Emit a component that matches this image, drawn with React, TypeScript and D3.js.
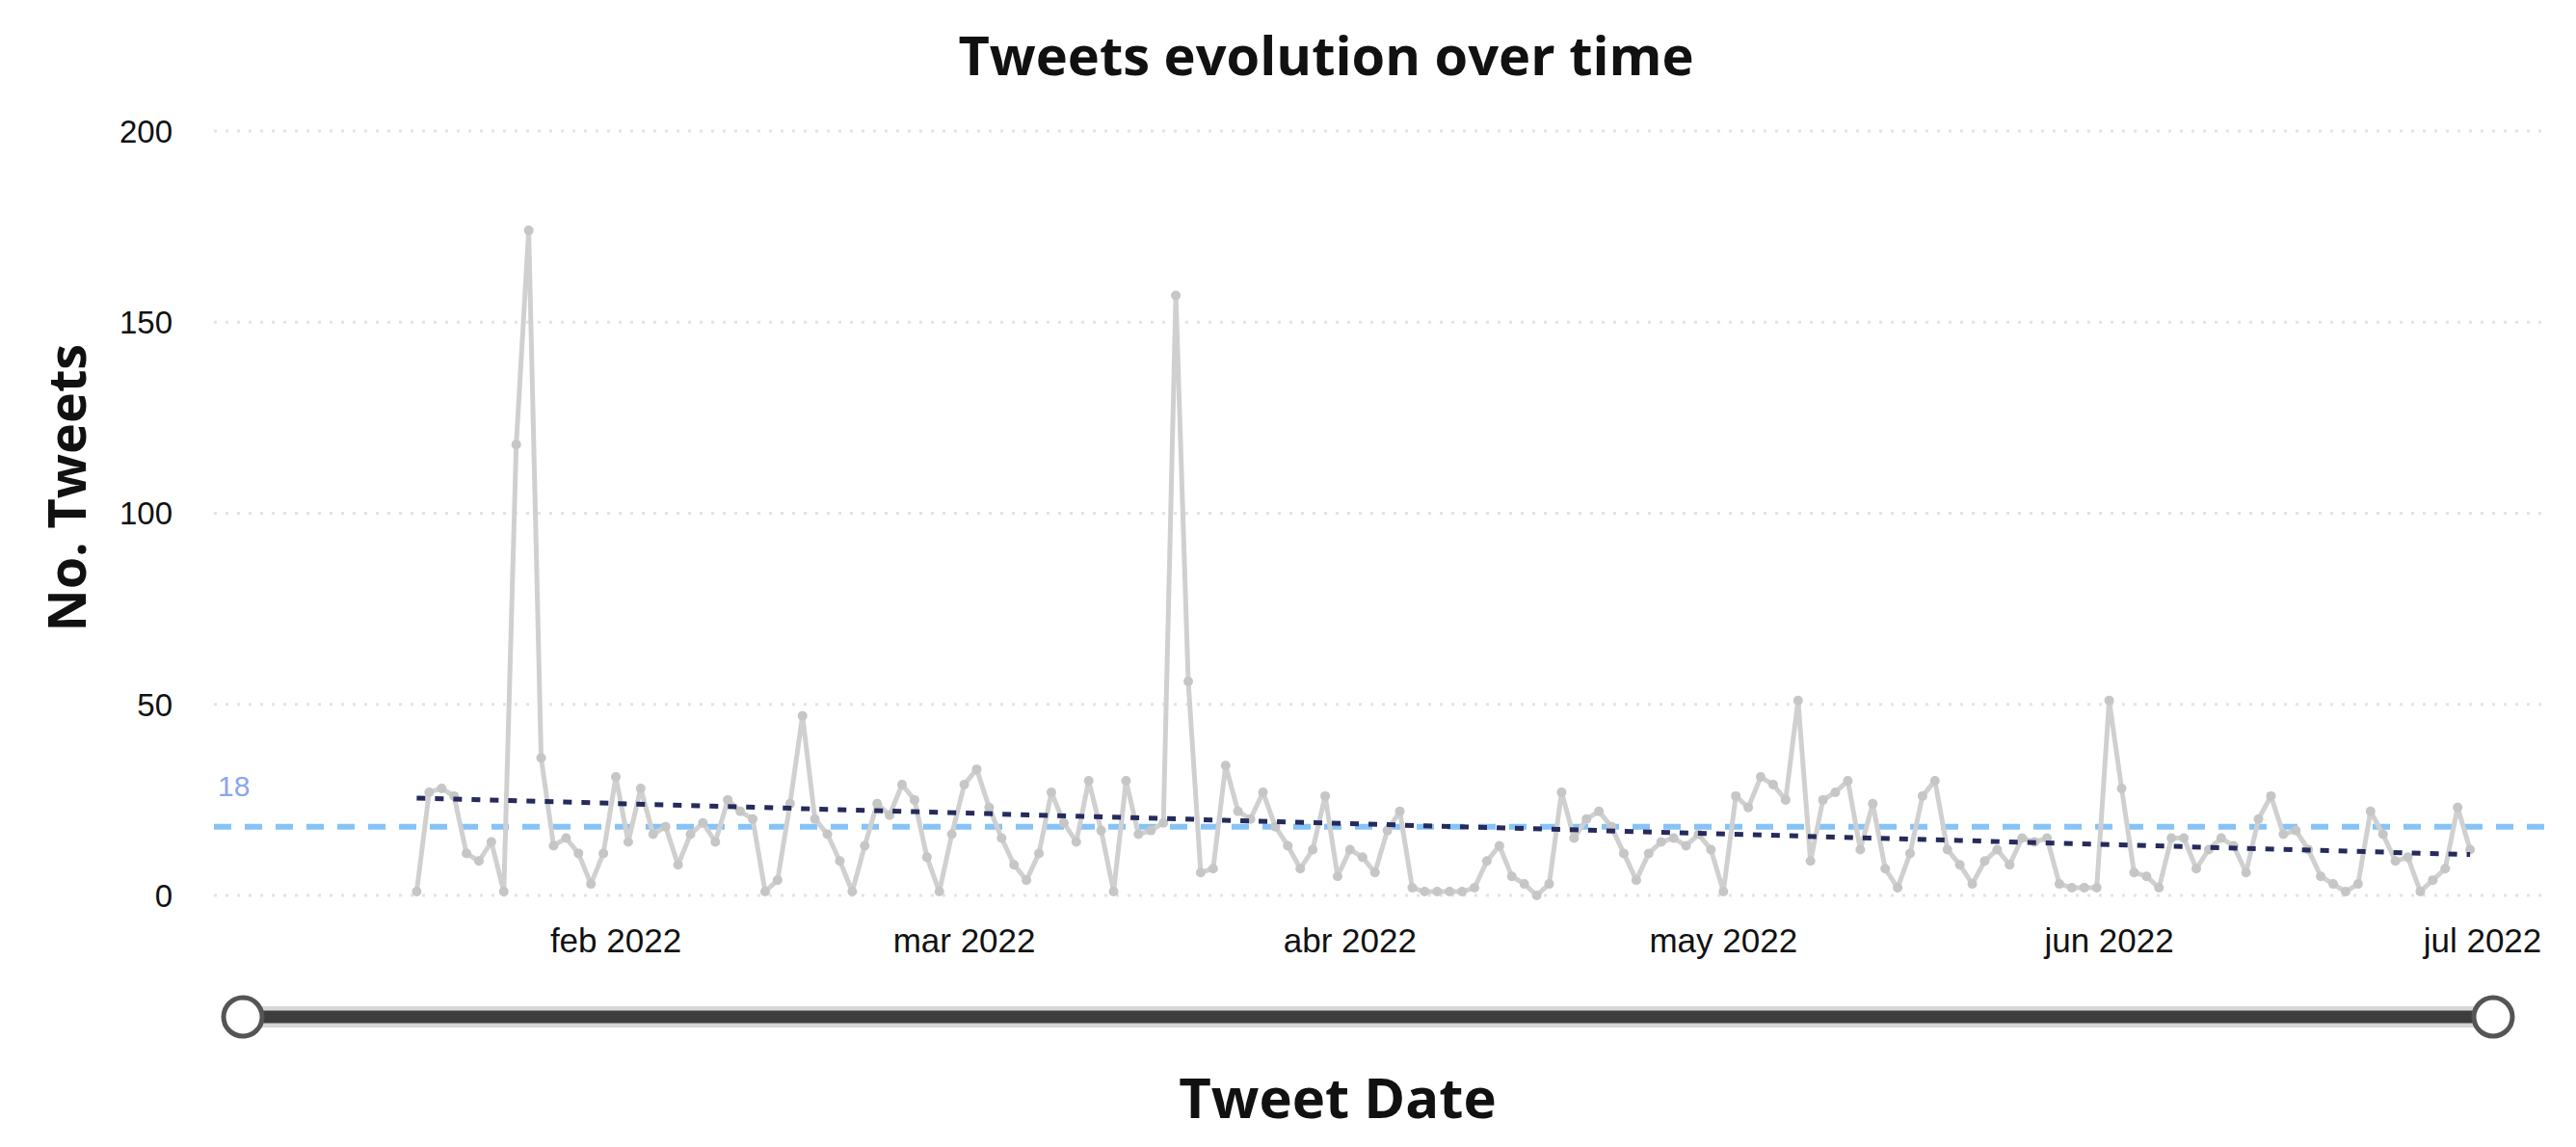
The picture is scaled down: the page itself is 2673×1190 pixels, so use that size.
import React from "react";
import * as d3 from "d3";

// ---- data ----
const janCounts = [1, 27, 28, 26, 11, 9, 14, 1, 118, 174, 36, 13, 15, 11, 3, 11]; // from Jan 16
const febCounts = [31, 14, 28, 16, 18, 8, 16, 19, 14, 25, 22, 20, 1, 4, 24, 47, 20, 16, 9, 1, 13, 24, 21, 29, 25, 10, 1, 16];
const marCounts = [29, 33, 23, 15, 8, 4, 11, 27, 19, 14, 30, 17, 1, 30, 16, 17, 19, 157, 56, 6, 7, 34, 22, 20, 27, 18, 13, 7, 12, 26, 5];
const aprCounts = [12, 10, 6, 17, 22, 2, 1, 1, 1, 1, 2, 9, 13, 5, 3, 0, 3, 27, 15, 20, 22, 18, 11, 4, 11, 14, 15, 13, 16, 12];
const mayCounts = [1, 26, 23, 31, 29, 25, 51, 9, 25, 27, 30, 12, 24, 7, 2, 11, 26, 30, 12, 8, 3, 9, 12, 8, 15, 14, 15, 3, 2, 2, 2];
const junCounts = [51, 28, 6, 5, 2, 15, 15, 7, 12, 15, 13, 6, 20, 26, 16, 17, 12, 5, 3, 1, 3, 22, 16, 9, 10, 1, 4, 7, 23, 12];
const monthStarts = ["2022-01-16", "2022-02-01", "2022-03-01", "2022-04-01", "2022-05-01", "2022-06-01"];
const monthSeries = [janCounts, febCounts, marCounts, aprCounts, mayCounts, junCounts];

const yTicks = [0, 50, 100, 150, 200];
const xTickDates = ["2022-02-01", "2022-03-01", "2022-04-01", "2022-05-01", "2022-06-01", "2022-07-01"];
const xTickLabels = ["feb 2022", "mar 2022", "abr 2022", "may 2022", "jun 2022", "jul 2022"];
const meanValue = 18;
const trendStartValue = 25.5;
const trendEndValue = 10.7;

const parse = (s: string) => new Date(s + "T00:00:00Z");

type Pt = { date: Date; value: number };
const points: Pt[] = [];
monthSeries.forEach((vals, i) => {
  const start = parse(monthStarts[i]);
  vals.forEach((v, j) => points.push({ date: d3.utcDay.offset(start, j), value: v }));
});

export default function App() {
  const W = 2673, H = 1190;
  const plotLeft = 222, plotRight = 2643;
  const x = d3.scaleUtc().domain([parse(xTickDates[0]), parse(xTickDates[5])]).range([639, 2576]);
  const y = d3.scaleLinear().domain([0, 200]).range([929, 136]);
  const line = d3.line<Pt>().x((d) => x(d.date)).y((d) => y(d.value));
  const first = points[0].date, last = points[points.length - 1].date;
  const font = "'Liberation Sans', Arial, sans-serif";
  const bold = "'Open Sans', 'Noto Sans', sans-serif";

  return (
    <div style={{ position: "absolute", left: 0, top: 0 }}>
      <svg width={W} height={H} style={{ display: "block", background: "#fff" }}>
        <text x={1376} y={78} textAnchor="middle" fontFamily={bold} fontWeight={700} fontSize={56} fill="#111">
          Tweets evolution over time
        </text>
        {/* grid */}
        {yTicks.map((t) => (
          <g key={t}>
            <line x1={plotLeft} x2={plotRight} y1={y(t)} y2={y(t)} stroke="#e3e3e3" strokeWidth={3} strokeDasharray="3,9" />
            <text x={179} y={y(t)} dy="0.36em" textAnchor="end" fontFamily={font} fontSize={33} fill="#111">{t}</text>
          </g>
        ))}
        <text transform={`translate(89,506) rotate(-90)`} textAnchor="middle" fontFamily={bold} fontWeight={700} fontSize={54} fill="#111">
          No. Tweets
        </text>
        {/* mean line */}
        <line x1={plotLeft} x2={plotRight} y1={y(meanValue)} y2={y(meanValue)} stroke="#86c3f7" strokeWidth={6} strokeDasharray="18,14" />
        <text x={226} y={y(meanValue) - 32} fontFamily={font} fontSize={30} fill="#8aa6ee">{meanValue}</text>
        {/* data line */}
        <path d={line(points) || ""} fill="none" stroke="#d0d0d0" strokeWidth={5} strokeLinejoin="round" />
        {points.map((p, i) => (
          <circle key={i} cx={x(p.date)} cy={y(p.value)} r={5} fill="#c6c6c6" />
        ))}
        {/* trend line */}
        <line x1={x(first)} x2={x(last)} y1={y(trendStartValue)} y2={y(trendEndValue)} stroke="#262a5c" strokeWidth={5} strokeDasharray="9,10" />
        {/* x ticks */}
        {xTickDates.map((d, i) => (
          <text key={d} x={x(parse(d))} y={988} textAnchor="middle" fontFamily={font} fontSize={35} fill="#111">{xTickLabels[i]}</text>
        ))}
        {/* range slider */}
        <line x1={252} x2={2587} y1={1055} y2={1055} stroke="#d6d6d6" strokeWidth={22} />
        <line x1={252} x2={2587} y1={1055} y2={1055} stroke="#3d3d3d" strokeWidth={13} />
        <circle cx={252} cy={1055} r={20} fill="#fff" stroke="#555" strokeWidth={5} />
        <circle cx={2587} cy={1055} r={20} fill="#fff" stroke="#555" strokeWidth={5} />
        <text x={1388} y={1160} textAnchor="middle" fontFamily={bold} fontWeight={700} fontSize={58} fill="#111">
          Tweet Date
        </text>
      </svg>
    </div>
  );
}
